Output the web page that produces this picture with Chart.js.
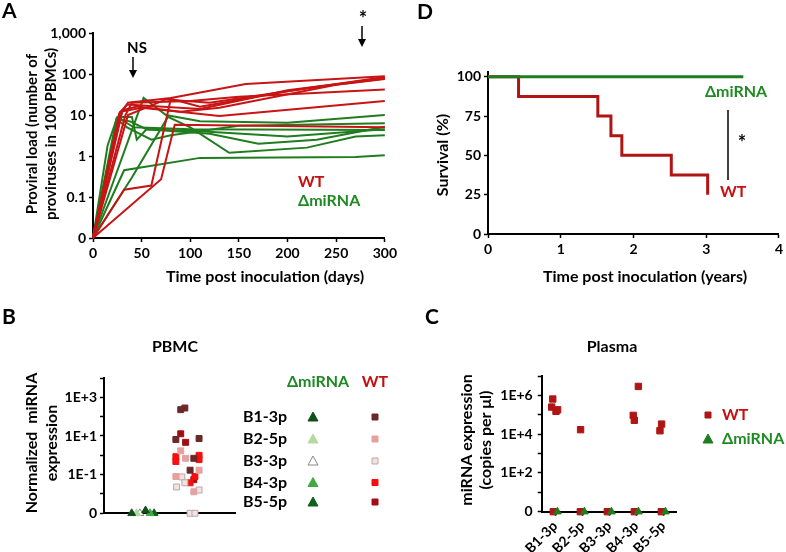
<!DOCTYPE html>
<html>
<head>
<meta charset="utf-8">
<script src="https://cdn.jsdelivr.net/npm/chart.js@4.4.1/dist/chart.umd.min.js"></script>
<style>
  body { margin: 0; background: #fff; }
  #wrap { position: relative; width: 786px; height: 552px; }
  canvas { position: absolute; }
</style>
</head>
<body>
<div id="wrap">
  <canvas id="pA" width="400" height="300" style="left:0;top:0"></canvas>
  <canvas id="pD" width="386" height="300" style="left:400px;top:0"></canvas>
  <canvas id="pB" width="400" height="252" style="left:0;top:300px"></canvas>
  <canvas id="pC" width="386" height="252" style="left:400px;top:300px"></canvas>
</div>
<script>
// ---- data ----
// A: proviral load per animal, [day, proviruses per 100 PBMCs]
const wtProviral = [
  [[0, 0], [30, 12], [36, 20], [80, 26], [157, 57], [300, 88]],
  [[0, 0], [27, 11], [35, 18], [110, 14], [200, 40], [300, 80]],
  [[0, 0], [33, 9.5], [40, 20], [100, 22], [150, 28], [300, 42]],
  [[0, 0], [30, 13], [45, 16], [90, 12], [130, 15], [250, 55], [300, 75]],
  [[0, 0], [28, 12], [50, 15], [130, 9.5], [300, 22]],
  [[0, 0], [32, 0.15], [60, 0.19], [80, 25], [110, 16], [200, 38], [300, 85]],
  [[0, 0], [70, 0.27], [84, 5.8], [300, 5]],
  [[0, 0], [36, 10], [75, 24], [120, 20], [220, 45], [300, 78]]
];
const dmProviral = [
  [[0, 0], [15, 1.8], [25, 9], [40, 9], [45, 2.5], [55, 4.5], [110, 4], [200, 3], [300, 4.5]],
  [[0, 0], [24, 8], [35, 5], [60, 2.5], [80, 3.2], [150, 5.5], [300, 6.3]],
  [[0, 0], [52, 26], [75, 10], [110, 7], [200, 6.5], [300, 10]],
  [[0, 0], [32, 0.45], [110, 0.9], [270, 0.95], [300, 1.05]],
  [[0, 0], [40, 0.3], [77, 9], [100, 5], [140, 1.2], [220, 1.6], [270, 3], [300, 3.2]],
  [[0, 0], [26, 8], [38, 7], [55, 4.5], [120, 3.5], [170, 2], [230, 2.5], [300, 5.2]],
  [[0, 0], [20, 2], [28, 8], [42, 5], [100, 4.5], [300, 4.3]]
];
const loadTicks = [0.01, 0.1, 1, 10, 100, 1000];
const LOAD_ZERO = 0.01;

// D: survival, [years, %]
const wtSurvival = [[0, 100], [0.42, 87.5], [1.51, 75], [1.69, 62.5], [1.84, 50], [2.52, 37.5], [3.02, 25]];
const dmSurvival = [[0, 100], [3.51, 100]];
const survivalTicks = [0, 25, 50, 75, 100];

// B: PBMC miRNA expression, [jitter position, value]
const mirnas = ['B1-3p', 'B2-5p', 'B3-3p', 'B4-3p', 'B5-5p'];
const pbmcWt = [
  [[2.05, 230], [2.16, 280], [1.92, 6.6], [2.54, 7.4], [2.40, 0.7], [2.30, 0.17]],
  [[2.05, 1.7], [2.18, 0.7], [2.54, 0.17], [1.92, 0.08], [2.40, 0.013]],
  [[2.08, 0.076], [1.94, 0.023], [2.16, 0.038], [2.54, 0.016], [2.30, 0], [2.43, 0]],
  [[1.92, 0.85], [1.92, 0.48], [2.54, 1.0], [2.54, 0.6], [2.43, 0.08], [2.30, 0.038]],
  [[2.05, 13], [2.18, 4.7], [2.40, 0.055]]
];
const pbmcDm = [
  [[0.74, 0], [1.11, 0.0014]],
  [[0.87, 0]],
  [[0.96, 0]],
  [[1.23, 0]],
  [[1.34, 0]]
];
const pbmcTicks = [1e-3, 1e-2, 1e-1, 1, 10, 100, 1e3, 1e4];
const PBMC_ZERO = 1e-3;

// C: plasma miRNA copies per µl, [category position, value]
const plasmaWt = [
  [0.91, 6.5e5], [0.87, 2.5e5], [1.03, 1.5e5], [1.09, 1.8e5],
  [1.94, 1.7e4],
  [4.08, 2.9e6], [3.89, 9.3e4], [3.93, 5.2e4],
  [4.94, 3.3e4], [4.88, 1.5e4],
  [0.93, 0], [1.93, 0], [2.93, 0], [3.93, 0], [4.93, 0]
];
const plasmaDm = [[1.08, 0], [2.08, 0], [3.08, 0], [4.08, 0], [5.08, 0]];
const plasmaTicks = [1, 10, 100, 1e3, 1e4, 1e5, 1e6, 1e7];
const PLASMA_ZERO = 1;

// ---- styles ----
const FONT = 'Lato, "Open Sans", "DejaVu Sans", sans-serif';
const RED = '#c81414';
const DARK_RED = '#b01515';
const GREEN = '#1f7d1f';
const TXT_GREEN = '#1f8a24';
const TXT_RED = '#c80f0f';
const wtColors = ['#6b2828', '#e5a0a0', '#f3e2e2', '#f50f0f', '#a30d12'];
const wtBorders = ['#6b2828', '#e5a0a0', '#bba7a7', '#f50f0f', '#a30d12'];
const dmColors = ['#0f4f1a', '#b8d8a0', '#ffffff', '#44a844', '#0f601e'];
const dmBorders = ['#0f4f1a', '#b8d8a0', '#888888', '#44a844', '#0f601e'];

Chart.defaults.font.family = FONT;
Chart.defaults.font.weight = 'bold';
Chart.defaults.color = '#000';
Chart.defaults.animation = false;
Chart.defaults.plugins.legend.display = false;
Chart.defaults.plugins.tooltip.enabled = false;

const fixTicks = vals => scale => { scale.ticks = vals.map(v => ({ value: v })); };
const tickFont = { size: 14, weight: 'bold' };
const gridOpts = { drawOnChartArea: false, color: '#000', tickColor: '#000', tickLength: 4, tickWidth: 1.5 };
const borderOpts = { color: '#000', width: 2 };

// texts, arrows and legend keys drawn on top of each chart
function notes(items) {
  return {
    id: 'notes',
    afterDraw(chart) {
      const ctx = chart.ctx;
      items.forEach(it => {
        ctx.save();
        ctx.fillStyle = ctx.strokeStyle = it.color || '#000';
        if (it.text !== undefined) {
          ctx.font = 'bold ' + (it.size || 15) + 'px ' + FONT;
          ctx.textAlign = it.align || 'center';
          ctx.textBaseline = 'middle';
          ctx.translate(it.x, it.y);
          if (it.rot) ctx.rotate(it.rot * Math.PI / 180);
          ctx.fillText(it.text, 0, 0);
        } else if (it.arrow) {
          ctx.lineWidth = 1.5;
          ctx.beginPath();
          ctx.moveTo(it.x, it.y1);
          ctx.lineTo(it.x, it.y2 - 6);
          ctx.stroke();
          ctx.beginPath();
          ctx.moveTo(it.x - 4, it.y2 - 8);
          ctx.lineTo(it.x + 4, it.y2 - 8);
          ctx.lineTo(it.x, it.y2);
          ctx.closePath();
          ctx.fill();
        } else if (it.line) {
          ctx.lineWidth = it.w || 1.5;
          ctx.beginPath();
          ctx.moveTo(it.x1, it.y1);
          ctx.lineTo(it.x2, it.y2);
          ctx.stroke();
        } else if (it.mark) {
          ctx.fillStyle = it.fill;
          ctx.strokeStyle = it.stroke || it.fill;
          ctx.lineWidth = 1;
          ctx.beginPath();
          if (it.mark === 'rect') {
            ctx.rect(it.x - 3, it.y - 3, 6, 6);
          } else {
            ctx.moveTo(it.x, it.y - 5);
            ctx.lineTo(it.x + 5, it.y + 4);
            ctx.lineTo(it.x - 5, it.y + 4);
            ctx.closePath();
          }
          ctx.fill();
          ctx.stroke();
        }
        ctx.restore();
      });
    }
  };
}

const toXY = (pts, zero) => pts.map(([x, y]) => ({ x: x, y: y === 0 ? zero : y }));

// ---- A: proviral load ----
new Chart(document.getElementById('pA'), {
  type: 'line',
  data: {
    datasets: [
      ...wtProviral.map(p => ({ data: toXY(p, LOAD_ZERO), borderColor: RED, borderWidth: 2, pointRadius: 0, clip: false })),
      ...dmProviral.map(p => ({ data: toXY(p, LOAD_ZERO), borderColor: GREEN, borderWidth: 2, pointRadius: 0, clip: false }))
    ]
  },
  options: {
    responsive: false,
    layout: { autoPadding: false, padding: { top: 33, right: 8, left: 0, bottom: 0 } },
    scales: {
      x: {
        type: 'linear', min: 0, max: 300,
        grid: gridOpts, border: borderOpts,
        ticks: { stepSize: 50, font: tickFont, color: '#000', padding: 3, maxRotation: 0 },
        afterFit: s => { s.height = 62; }
      },
      y: {
        type: 'logarithmic', min: LOAD_ZERO, max: 1000,
        grid: gridOpts, border: borderOpts,
        afterBuildTicks: fixTicks(loadTicks),
        ticks: {
          font: tickFont, color: '#000', padding: 3, autoSkip: false,
          callback: v => v === LOAD_ZERO ? '0' : Number(v).toLocaleString('en-US')
        },
        afterFit: s => { s.width = 93; }
      }
    }
  },
  plugins: [notes([
    { text: 'A', x: 2, y: 11, align: 'left', size: 21 },
    { text: 'Proviral load (number of', x: 32, y: 134, rot: -90 },
    { text: 'proviruses in 100 PBMCs)', x: 51, y: 134, rot: -90 },
    { text: 'Time post inoculation (days)', x: 265, y: 277, size: 16 },
    { text: 'NS', x: 137, y: 48, size: 15 },
    { arrow: true, x: 133, y1: 57, y2: 78 },
    { text: '*', x: 363, y: 20, size: 20 },
    { arrow: true, x: 362, y1: 26, y2: 47 },
    { text: 'WT', x: 298, y: 182, align: 'left', size: 16, color: TXT_RED },
    { text: 'ΔmiRNA', x: 298, y: 201, align: 'left', size: 16, color: TXT_GREEN }
  ])]
});

// ---- D: survival ----
new Chart(document.getElementById('pD'), {
  type: 'line',
  data: {
    datasets: [
      { data: toXY(dmSurvival, 0), borderColor: GREEN, borderWidth: 3, pointRadius: 0, clip: false },
      { data: toXY(wtSurvival, 0), borderColor: DARK_RED, borderWidth: 3, pointRadius: 0, stepped: 'before', clip: false }
    ]
  },
  options: {
    responsive: false,
    layout: { autoPadding: false, padding: { top: 72, right: 4, left: 0, bottom: 0 } },
    scales: {
      x: {
        type: 'linear', min: 0, max: 4,
        grid: gridOpts, border: borderOpts,
        ticks: { stepSize: 1, font: tickFont, color: '#000', padding: 3, maxRotation: 0 },
        afterFit: s => { s.height = 66; }
      },
      y: {
        type: 'linear', min: 0, max: 103,
        grid: gridOpts, border: borderOpts,
        afterBuildTicks: fixTicks(survivalTicks),
        ticks: { font: tickFont, color: '#000', padding: 3, autoSkip: false },
        afterFit: s => { s.width = 88; }
      }
    }
  },
  plugins: [notes([
    { text: 'D', x: 17, y: 12, align: 'left', size: 21 },
    { text: 'Survival (%)', x: 43, y: 155, rot: -90, size: 16 },
    { text: 'Time post inoculation (years)', x: 245, y: 277, size: 16 },
    { text: 'ΔmiRNA', x: 336, y: 92, size: 16, color: TXT_GREEN },
    { text: 'WT', x: 320, y: 192, align: 'left', size: 16, color: TXT_RED },
    { line: true, x1: 328, y1: 110, x2: 328, y2: 180 },
    { text: '*', x: 342, y: 144, size: 20 }
  ])]
});

// ---- B: PBMC ----
const pbmcSets = [];
mirnas.forEach((m, i) => {
  pbmcSets.push({
    label: m + ' WT', data: toXY(pbmcWt[i], PBMC_ZERO), showLine: false,
    pointStyle: 'rect', pointRadius: 4.2, backgroundColor: wtColors[i], borderColor: wtBorders[i], borderWidth: 1, clip: false
  });
  pbmcSets.push({
    label: m + ' ΔmiRNA', data: toXY(pbmcDm[i], PBMC_ZERO), showLine: false,
    pointStyle: 'triangle', pointRadius: 4.5, backgroundColor: dmColors[i], borderColor: dmBorders[i], borderWidth: 1, clip: false
  });
});
const legendRows = [117, 139, 161, 182.5, 202];
new Chart(document.getElementById('pB'), {
  type: 'scatter',
  data: { datasets: pbmcSets },
  options: {
    responsive: false,
    layout: { autoPadding: false, padding: { top: 78, right: 165, left: 0, bottom: 0 } },
    scales: {
      x: {
        type: 'linear', min: 0, max: 3.5,
        grid: { display: false }, border: borderOpts,
        ticks: { display: false },
        afterFit: s => { s.height = 38.7; }
      },
      y: {
        type: 'logarithmic', min: PBMC_ZERO, max: 1e4,
        grid: gridOpts, border: borderOpts,
        afterBuildTicks: fixTicks(pbmcTicks),
        ticks: {
          font: tickFont, color: '#000', padding: 3, autoSkip: false,
          callback: v => v === PBMC_ZERO ? '0' : ({ 1000: '1E+3', 10: '1E+1', 0.1: '1E-1' })[v] || ''
        },
        afterFit: s => { s.width = 104; }
      }
    }
  },
  plugins: [notes([
    { text: 'B', x: 2, y: 17, align: 'left', size: 21 },
    { text: 'PBMC', x: 175, y: 47, size: 16 },
    { text: 'Normalized  miRNA', x: 32, y: 143, rot: -90, size: 16 },
    { text: 'expression', x: 52, y: 143, rot: -90, size: 16 },
    { text: 'ΔmiRNA', x: 318, y: 82, size: 16, color: TXT_GREEN },
    { text: 'WT', x: 375, y: 82, size: 16, color: TXT_RED },
    ...mirnas.flatMap((m, i) => [
      { text: m, x: 243, y: legendRows[i], align: 'left', size: 16 },
      { mark: 'tri', x: 313, y: legendRows[i], fill: dmColors[i], stroke: dmBorders[i] },
      { mark: 'rect', x: 375, y: legendRows[i], fill: wtColors[i], stroke: wtBorders[i] }
    ])
  ])]
});

// ---- C: plasma ----
new Chart(document.getElementById('pC'), {
  type: 'scatter',
  data: {
    datasets: [
      { label: 'ΔmiRNA', data: toXY(plasmaDm, PLASMA_ZERO), pointStyle: 'triangle', pointRadius: 4.5,
        backgroundColor: GREEN, borderColor: GREEN, clip: false },
      { label: 'WT', data: toXY(plasmaWt, PLASMA_ZERO), pointStyle: 'rect', pointRadius: 4.5,
        backgroundColor: DARK_RED, borderColor: DARK_RED, clip: false }
    ]
  },
  options: {
    responsive: false,
    layout: { autoPadding: false, padding: { top: 76, right: 109.3, left: 0, bottom: 0 } },
    scales: {
      x: {
        type: 'linear', min: 0.5, max: 5.5,
        grid: gridOpts, border: borderOpts,
        afterBuildTicks: fixTicks([1, 2, 3, 4, 5]),
        ticks: {
          font: tickFont, color: '#000', padding: 2, autoSkip: false, minRotation: 45, maxRotation: 45,
          callback: v => mirnas[v - 1]
        },
        afterFit: s => { s.height = 40.3; }
      },
      y: {
        type: 'logarithmic', min: PLASMA_ZERO, max: 1e7,
        grid: gridOpts, border: borderOpts,
        afterBuildTicks: fixTicks(plasmaTicks),
        ticks: {
          font: tickFont, color: '#000', padding: 5, autoSkip: false,
          callback: v => v === PLASMA_ZERO ? '0' : ({ 1e6: '1E+6', 1e4: '1E+4', 100: '1E+2' })[v] || ''
        },
        afterFit: s => { s.width = 141.7; }
      }
    }
  },
  plugins: [notes([
    { text: 'C', x: 25, y: 17, align: 'left', size: 21 },
    { text: 'Plasma', x: 212, y: 47, size: 16 },
    { text: 'miRNA expression', x: 67, y: 140, rot: -90, size: 16 },
    { text: '(copies per μl)', x: 86, y: 140, rot: -90, size: 16 },
    { mark: 'rect', x: 308, y: 115, fill: DARK_RED },
    { text: 'WT', x: 322, y: 115, align: 'left', size: 16, color: TXT_RED },
    { mark: 'tri', x: 308, y: 139, fill: GREEN },
    { text: 'ΔmiRNA', x: 322, y: 139, align: 'left', size: 16, color: TXT_GREEN }
  ])]
});
</script>
</body>
</html>
